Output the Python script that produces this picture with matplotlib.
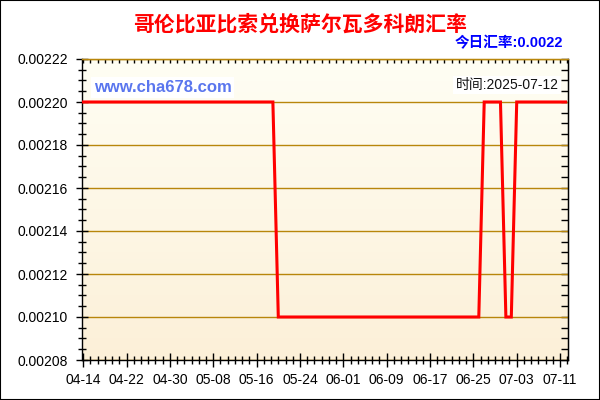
import numpy as np
import pandas as pd
import matplotlib
matplotlib.use("Agg")
import matplotlib.pyplot as plt
from matplotlib.ticker import FixedLocator, MultipleLocator, NullFormatter
from matplotlib.patches import Rectangle

plt.rcParams['font.family'] = ['Liberation Sans', 'Noto Sans CJK SC', 'DejaVu Sans']

title = "哥伦比亚比索兑换萨尔瓦多科朗汇率"
today_rate = "今日汇率:0.0022"
date_text = "时间:2025-07-12"
watermark = "www.cha678.com"

start_date = "2025-04-14"
values = [
    0.0022, 0.0022, 0.0022, 0.0022, 0.0022, 0.0022, 0.0022, 0.0022, 0.0022, 0.0022,
    0.0022, 0.0022, 0.0022, 0.0022, 0.0022, 0.0022, 0.0022, 0.0022, 0.0022, 0.0022,
    0.0022, 0.0022, 0.0022, 0.0022, 0.0022, 0.0022, 0.0022, 0.0022, 0.0022, 0.0022,
    0.0022, 0.0022, 0.0022, 0.0022, 0.0022, 0.0022,
    0.0021, 0.0021, 0.0021, 0.0021, 0.0021, 0.0021, 0.0021, 0.0021, 0.0021, 0.0021,
    0.0021, 0.0021, 0.0021, 0.0021, 0.0021, 0.0021, 0.0021, 0.0021, 0.0021, 0.0021,
    0.0021, 0.0021, 0.0021, 0.0021, 0.0021, 0.0021, 0.0021, 0.0021, 0.0021, 0.0021,
    0.0021, 0.0021, 0.0021, 0.0021, 0.0021, 0.0021, 0.0021, 0.0021,
    0.0022, 0.0022, 0.0022, 0.0022,
    0.0021, 0.0021,
    0.0022, 0.0022, 0.0022, 0.0022, 0.0022, 0.0022, 0.0022, 0.0022, 0.0022, 0.0022,
]
dates = pd.date_range(start_date, periods=len(values), freq="D")
x_labels = ["04-14", "04-22", "04-30", "05-08", "05-16", "05-24",
            "06-01", "06-09", "06-17", "06-25", "07-03", "07-11"]
y_ticks = [0.00208, 0.00210, 0.00212, 0.00214, 0.00216, 0.00218, 0.00220, 0.00222]

x = (dates - dates[0]).days.values.astype(float)
label_pos = [(pd.Timestamp("2025-" + s) - dates[0]).days for s in x_labels]

fig = plt.figure(figsize=(6, 4), dpi=100)
ax = fig.add_axes([0.136, 0.1, 0.811, 0.7525])

# gradient background
grad = np.linspace(0, 1, 256).reshape(-1, 1)
top_c = np.array([255, 254, 244]) / 255
bot_c = np.array([252, 240, 216]) / 255
img = top_c + (bot_c - top_c) * grad[:, :, None] * np.ones((1, 2, 1))
ax.imshow(img, extent=[0, 1, 0, 1], transform=ax.transAxes, aspect='auto', zorder=0)

for yv in y_ticks:
    ax.axhline(yv, color='#b8860b', lw=1.0, zorder=1)

ax.plot(x, values, color='#ff0000', lw=2.2, zorder=3, solid_joinstyle='miter')

ax.set_xlim(-0.3, 89.5)
ax.set_ylim(y_ticks[0], y_ticks[-1])

ax.xaxis.set_major_locator(FixedLocator(label_pos))
ax.set_xticklabels(x_labels)
ax.xaxis.set_minor_locator(MultipleLocator(4/3))
ax.yaxis.set_major_locator(FixedLocator(y_ticks))
ax.set_yticklabels([f"{v:.5f}" for v in y_ticks])
ax.yaxis.set_minor_locator(MultipleLocator(0.000005))

ax.tick_params(axis='x', which='major', direction='inout', length=10, width=1, labelsize=10, pad=4)
ax.tick_params(axis='x', which='minor', direction='inout', length=6, width=1)
ax.tick_params(axis='y', which='major', direction='inout', length=8, width=1, labelsize=10, pad=6)
ax.tick_params(axis='y', which='minor', direction='inout', length=6, width=1)

for sp in ax.spines.values():
    sp.set_color('black')
    sp.set_linewidth(1)
ax.spines['top'].set_color('#b8860b')

sec_r = ax.secondary_yaxis('right')
sec_r.yaxis.set_major_locator(FixedLocator(y_ticks))
sec_r.yaxis.set_minor_locator(MultipleLocator(0.000005))
sec_r.yaxis.set_major_formatter(NullFormatter())
sec_r.tick_params(which='both', direction='in', length=5, width=1)
sec_r.spines['right'].set_color('black')

sec_t = ax.secondary_xaxis('top')
sec_t.xaxis.set_major_locator(MultipleLocator(4/3))
sec_t.xaxis.set_major_formatter(NullFormatter())
sec_t.tick_params(which='both', direction='in', length=3, width=1)
sec_t.spines['top'].set_color('#b8860b')

ax.text(0.025, 0.905, watermark, transform=ax.transAxes, color='#5a76ee',
        fontsize=12, fontweight='bold', ha='left', va='center',
        bbox=dict(facecolor='white', edgecolor='none', pad=2), zorder=5)
ax.text(0.98, 0.915, date_text, transform=ax.transAxes, color='#111111',
        fontsize=10, ha='right', va='center',
        bbox=dict(facecolor='white', edgecolor='none', pad=1.5), zorder=5)

fig.text(0.5, 0.939, title, color='#ff0000', fontsize=15, fontweight='bold',
         ha='center', va='center', family=['Noto Sans CJK SC', 'DejaVu Sans'])
fig.text(0.938, 0.893, today_rate, color='#0000ff', fontsize=10.5, fontweight='bold',
         ha='right', va='center')

fig.patches.append(Rectangle((0, 0), 1, 1, transform=fig.transFigure, fill=False,
                             edgecolor='black', lw=1.5))

fig.savefig("out.png", dpi=100)
